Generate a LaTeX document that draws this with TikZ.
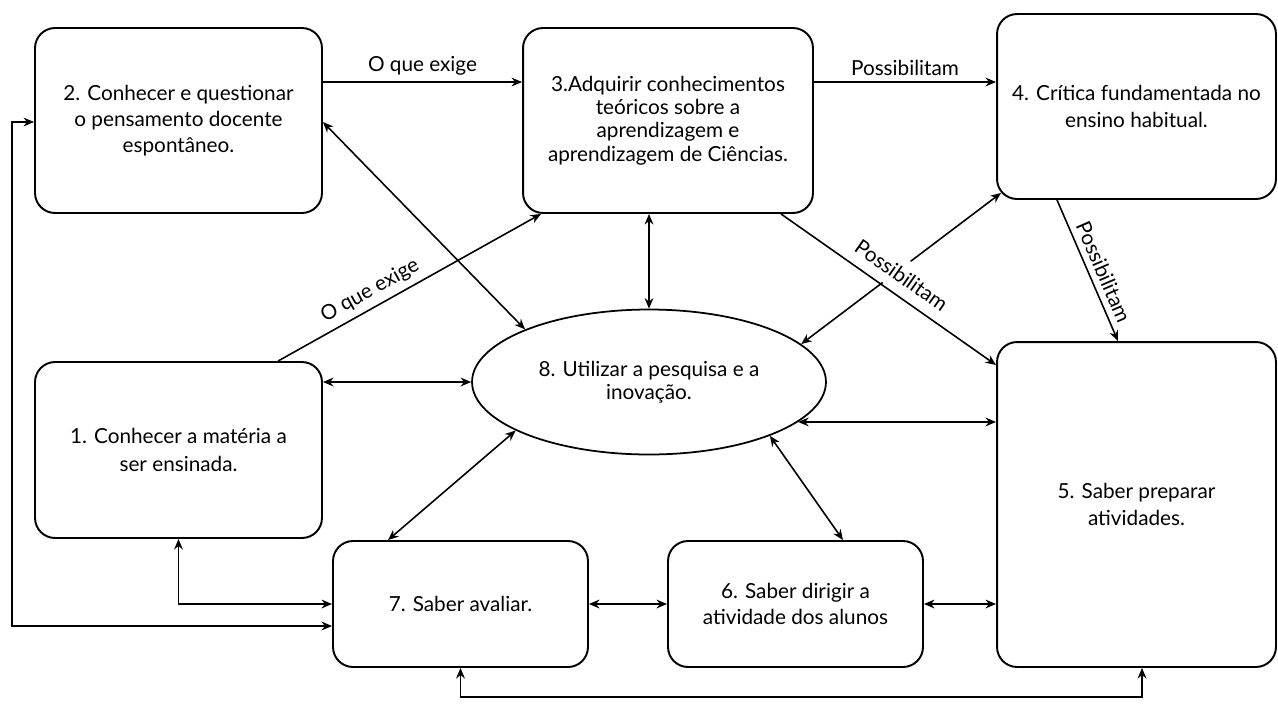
\documentclass[tikz,border=0pt]{standalone}
\usepackage{fontspec}
\setmainfont{Lato}
\usetikzlibrary{calc,positioning,arrows,arrows.meta,shapes}
\tikzstyle{box}    = [rectangle, rounded corners=0.4cm, draw=black, line width=1.1pt, align=center, inner sep=0pt]
\tikzstyle{arrow}  = [line width=0.9pt,->,>={Stealth[length=6pt,width=5pt]}]
\tikzstyle{darrow} = [line width=0.9pt,<->,>={Stealth[length=6pt,width=5pt]}]
\tikzstyle{lbl}    = [above, sloped]

\begin{document}
\begin{tikzpicture}[x=0.02cm, y=-0.02cm, font=\fontsize{11.8}{15}\selectfont]
        \useasboundingbox (0,0) rectangle (1278,704);

        \node[box, minimum width=5.74cm, minimum height=3.7cm] (b2) at (178.5,120.5) {2. Conhecer e questionar\\o pensamento docente\\espontâneo.};
        \node[box, minimum width=5.8cm, minimum height=3.7cm, font=\fontsize{11.8}{13.2}\selectfont] (b3) at (668,120.5) {3.Adquirir conhecimentos\\teóricos sobre a\\aprendizagem e\\aprendizagem de Ciências.};
        \node[box, minimum width=5.58cm, minimum height=3.7cm] (b4) at (1136.5,106.5) {4. Crítica fundamentada no\\ensino habitual.};
        \node[box, minimum width=5.74cm, minimum height=3.52cm, font=\fontsize{11.8}{16}\selectfont] (b1) at (178.5,450) {1. Conhecer a matéria a\\ser ensinada.};
        \node[box, minimum width=5.58cm, minimum height=6.5cm] (b5) at (1136.5,504.5) {5. Saber preparar\\atividades.};
        \node[box, minimum width=5.1cm, minimum height=2.52cm] (b7) at (460.5,604) {7. Saber avaliar.};
        \node[box, minimum width=5.1cm, minimum height=2.52cm] (b6) at (795.5,604) {6. Saber dirigir a\\atividade dos alunos};
        \node[ellipse, draw, line width=1pt, minimum width=7.08cm, minimum height=2.9cm, inner sep=0pt, align=center, font=\fontsize{11.8}{13}\selectfont] (e8) at (649,382) {8. Utilizar a pesquisa e a\\inovação.};

        \draw[arrow] (b2.east |- 0,82) -- node[above] {O que exige} (b3.west |- 0,82);
        \draw[arrow] (b3.east |- 0,82) -- node[above] {Possibilitam} (b4.west |- 0,82);
        \draw[arrow] (b1.north -| 278,0) -- node[lbl, pos=0.38] {O que exige} (b3.south -| 541,0);
        \draw[darrow] (b2.east |- 0,122) -- (e8.157.7);
        \draw[darrow] (b3.south -| e8.north) -- (e8.north);
        \draw[darrow] (e8.14.7) -- ($(b4.south west)+(5,-7)$);
        \draw[arrow] (b3.south -| 781,0) -- node[lbl, pos=0.51, fill=white, inner ysep=5pt, above=1pt] {Possibilitam} (b5.west |- 0,365);
        \draw[arrow] (b4.south -| 1057,0) -- node[lbl, pos=0.55] {Possibilitam} (b5.north -| 1118,0);

        \draw[darrow] (b1.east |- e8.west) -- (e8.west);
        \draw[darrow] (e8.-15) -- (b5.west |- e8.-15);
        \draw[darrow] (e8.200) -- (b7.north -| 388,0);
        \draw[darrow] (e8.-24) -- (b6.north -| 843,0);

        \draw[darrow] (b1.south) |- (b7.west);
        \draw[darrow, line width=0.6pt] (b7.west |- 0,626) -| (12,122) -- (b2.west |- 0,122);
        \draw[darrow] (b7.east) -- (b6.west);
        \draw[darrow] (b6.east) -- (b5.west |- b6.east);
        \draw[darrow] (b7.south) -- (b7.south |- 0,697) -| (b5.south -| 1142,0);
\end{tikzpicture}
\end{document}
